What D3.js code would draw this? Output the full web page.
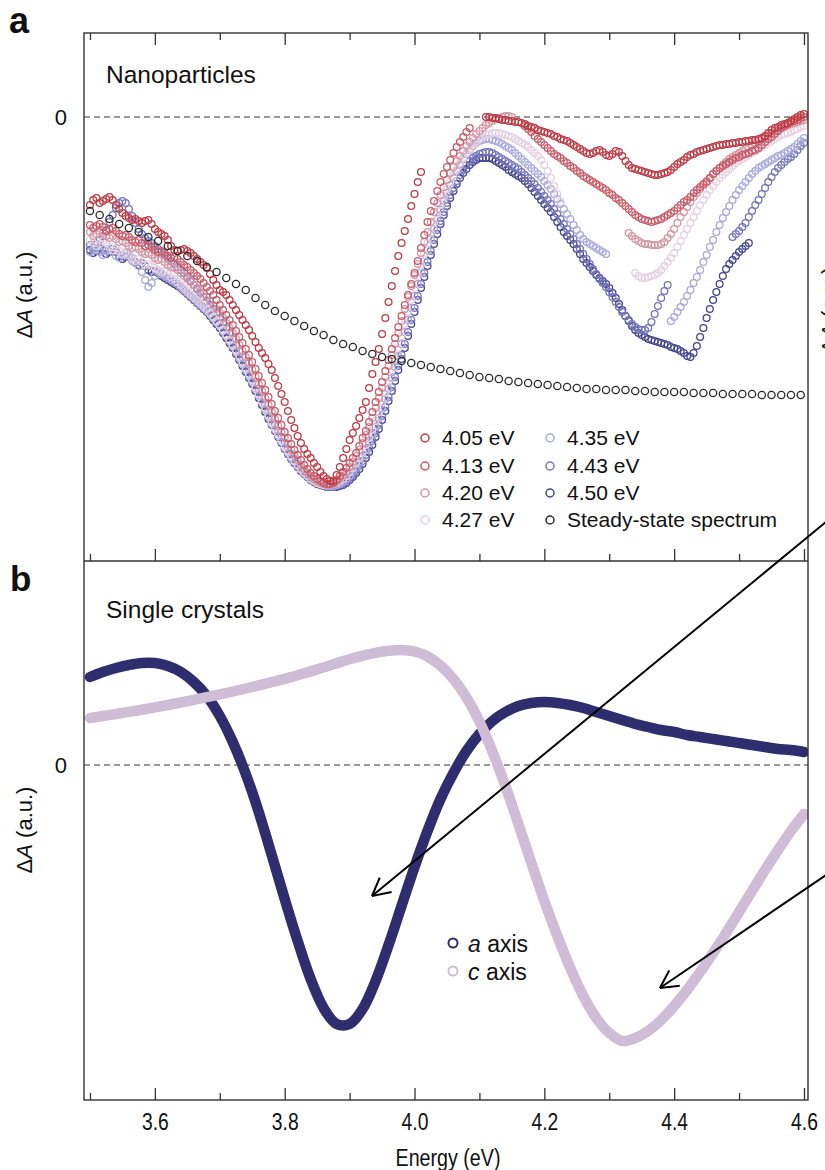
<!DOCTYPE html>
<html><head><meta charset="utf-8">
<script src="https://cdn.jsdelivr.net/npm/d3@7/dist/d3.min.js"></script>
<style>
body{margin:0;background:#fff}
svg{display:block}
text{font-family:"Liberation Sans",Arial,Helvetica,sans-serif;fill:#111}
</style>
</head><body>
<svg id="chart" width="825" height="1170"></svg>
<script>
// ---------------- DATA ----------------
const energyStep = 0.005;           // eV, sampling of transient spectra
const pumpLabels = ["4.05 eV","4.13 eV","4.20 eV","4.27 eV","4.35 eV","4.43 eV","4.50 eV"];
const pumpColors = ["#be3a44","#c85a66","#d596a3","#e4d0e2","#a9a9dc","#7474bc","#43438f"];

const ta405Starts = [3.50, 4.11];
const ta405a = [-8.8,-8.3,-8.1,-8.6,-8.4,-8.2,-8.0,-8.3,-8.8,-9.2,
-9.6,-9.9,-10.1,-10.3,-10.2,-10.4,-10.6,-10.4,-10.3,-10.7,
-11.2,-11.5,-11.7,-11.9,-12.3,-12.9,-13.3,-13.4,-13.3,-13.2,
-13.4,-13.6,-13.9,-14.2,-14.5,-14.8,-15.1,-15.7,-16.3,-16.8,
-17.3,-17.5,-17.8,-18.3,-18.8,-19.3,-19.8,-20.3,-20.8,-21.3,
-21.9,-22.5,-23.1,-23.6,-24.1,-24.7,-25.3,-26.1,-26.9,-27.7,
-28.5,-29.4,-30.3,-31.1,-31.9,-32.6,-33.2,-33.7,-34.1,-34.6,
-35.0,-35.5,-35.9,-36.2,-36.4,-36.4,-35.8,-35.0,-34.1,-33.2,
-32.3,-31.6,-30.9,-30.1,-29.3,-28.5,-27.1,-25.7,-24.5,-23.2,
-21.7,-20.1,-18.5,-16.9,-15.4,-13.9,-12.6,-11.4,-10.2,-8.9,
-7.7,-6.5,-5.5];
const ta405b = [0.0,0.0,-0.1,-0.1,-0.2,-0.3,-0.3,-0.4,-0.4,-0.5,
-0.5,-0.6,-0.7,-0.9,-1.0,-1.1,-1.3,-1.4,-1.5,-1.6,
-1.7,-1.9,-2.0,-2.2,-2.3,-2.4,-2.6,-2.8,-3.0,-3.2,
-3.4,-3.6,-3.7,-3.6,-3.4,-3.3,-3.5,-3.8,-3.9,-3.7,
-3.4,-3.5,-3.9,-4.4,-4.8,-5.1,-5.2,-5.3,-5.4,-5.5,
-5.6,-5.7,-5.8,-5.8,-5.7,-5.6,-5.5,-5.3,-5.0,-4.7,
-4.5,-4.3,-4.0,-3.8,-3.7,-3.5,-3.4,-3.3,-3.2,-3.1,
-3.0,-2.9,-2.8,-2.8,-2.7,-2.7,-2.6,-2.6,-2.5,-2.5,
-2.4,-2.4,-2.3,-2.3,-2.2,-2.1,-1.9,-1.6,-1.3,-1.1,
-1.0,-0.8,-0.7,-0.6,-0.4,-0.2,0.0,0.2,0.3];

const ta413Starts = [3.50, 4.17];
const ta413a = [-10.8,-11.1,-10.9,-10.7,-11.0,-11.4,-11.2,-11.1,-11.4,-11.7,
-11.9,-11.8,-12.0,-12.3,-12.5,-12.3,-12.6,-12.9,-12.8,-13.0,
-13.3,-13.5,-13.4,-13.6,-13.9,-14.1,-14.0,-14.2,-14.5,-14.8,
-15.0,-15.3,-15.6,-15.9,-16.2,-16.6,-17.0,-17.4,-17.8,-18.3,
-18.8,-19.3,-19.8,-20.3,-20.8,-21.4,-22.0,-22.6,-23.2,-23.8,
-24.5,-25.2,-25.9,-26.6,-27.3,-28.0,-28.7,-29.4,-30.1,-30.8,
-31.5,-32.1,-32.7,-33.3,-33.8,-34.3,-34.8,-35.2,-35.6,-35.9,
-36.2,-36.4,-36.6,-36.7,-36.7,-36.6,-36.3,-35.9,-35.5,-35.1,
-34.6,-34.1,-33.6,-32.9,-32.1,-31.4,-30.5,-29.5,-28.5,-27.5,
-26.5,-25.4,-24.3,-23.2,-22.1,-21.0,-19.9,-18.8,-17.8,-16.7,
-15.6,-14.4,-13.1,-11.8,-10.5,-9.4,-8.4,-7.4,-6.5,-5.7,
-5.0,-4.3,-3.6,-3.0,-2.5,-2.0,-1.5,-1.1];
const ta413b = [-0.9,-1.2,-1.5,-1.9,-2.2,-2.5,-2.8,-3.1,-3.4,-3.7,
-3.9,-4.1,-4.4,-4.6,-4.9,-5.1,-5.4,-5.6,-5.9,-6.1,
-6.3,-6.5,-6.7,-6.9,-7.1,-7.3,-7.6,-7.8,-8.1,-8.3,
-8.6,-8.9,-9.2,-9.5,-9.8,-10.0,-10.2,-10.3,-10.4,-10.5,
-10.4,-10.3,-10.2,-10.0,-9.8,-9.6,-9.4,-9.1,-8.8,-8.5,
-8.3,-8.0,-7.6,-7.3,-7.0,-6.7,-6.5,-6.1,-5.7,-5.4,
-5.1,-4.9,-4.7,-4.5,-4.3,-4.1,-4.0,-3.8,-3.7,-3.6,
-3.4,-3.3,-3.1,-2.8,-2.5,-2.2,-2.0,-1.7,-1.4,-1.1,
-0.9,-0.7,-0.5,-0.4,-0.3,-0.1,0.0];

const ta420Starts = [3.50, 4.33];
const ta420a = [-11.5,-11.9,-11.7,-11.4,-11.6,-11.9,-12.1,-11.9,-12.2,-12.5,
-12.4,-12.6,-12.9,-13.1,-13.0,-13.2,-13.5,-13.7,-13.6,-13.8,
-14.1,-14.3,-14.2,-14.5,-14.8,-15.0,-15.1,-15.3,-15.6,-15.9,
-16.2,-16.5,-16.8,-17.1,-17.4,-17.7,-18.0,-18.4,-18.8,-19.2,
-19.6,-20.1,-20.6,-21.1,-21.6,-22.2,-22.8,-23.4,-24.0,-24.6,
-25.3,-26.0,-26.7,-27.4,-28.1,-28.8,-29.5,-30.2,-30.9,-31.5,
-32.1,-32.7,-33.3,-33.8,-34.3,-34.8,-35.2,-35.6,-35.9,-36.2,
-36.4,-36.6,-36.7,-36.8,-36.8,-36.7,-36.5,-36.2,-35.9,-35.5,
-35.0,-34.5,-33.9,-33.3,-32.6,-31.8,-31.0,-30.1,-29.1,-28.1,
-27.1,-26.0,-24.9,-23.8,-22.7,-21.6,-20.4,-19.2,-18.0,-16.9,
-15.8,-14.7,-13.6,-12.5,-11.5,-10.5,-9.5,-8.6,-7.8,-7.0,
-6.3,-5.6,-5.0,-4.4,-3.9,-3.4,-2.9,-2.5,-2.1,-1.7,
-1.4,-1.1,-0.8,-0.6,-0.4,-0.2,-0.1,0.0,0.1,0.1,
0.0];
const ta420b = [-11.6,-11.9,-12.2,-12.4,-12.6,-12.7,-12.7,-12.8,-12.8,-12.8,
-12.7,-12.5,-12.1,-11.7,-11.2,-10.6,-10.0,-9.5,-9.0,-8.5,
-8.0,-7.6,-7.2,-6.8,-6.4,-6.1,-5.7,-5.4,-5.1,-4.8,
-4.5,-4.2,-4.0,-3.8,-3.6,-3.4,-3.2,-3.0,-2.8,-2.6,
-2.4,-2.2,-2.0,-1.8,-1.6,-1.4,-1.2,-1.0,-0.9,-0.8,
-0.7,-0.6,-0.5,-0.4,-0.3];

const ta427Starts = [3.50, 4.34];
const ta427a = [-12.3,-12.6,-12.9,-12.7,-12.4,-12.6,-13.0,-13.3,-13.1,-13.4,
-13.7,-13.5,-13.8,-14.1,-14.4,-14.2,-14.5,-14.8,-14.7,-14.9,
-15.1,-15.3,-15.5,-15.4,-15.7,-16.0,-16.2,-16.5,-16.8,-17.1,
-17.4,-17.7,-18.0,-18.3,-18.6,-18.9,-19.2,-19.6,-20.0,-20.4,
-20.8,-21.3,-21.8,-22.3,-22.8,-23.3,-23.9,-24.5,-25.1,-25.7,
-26.3,-27.0,-27.7,-28.4,-29.1,-29.8,-30.5,-31.1,-31.7,-32.3,
-32.9,-33.4,-33.9,-34.4,-34.8,-35.2,-35.6,-35.9,-36.2,-36.4,
-36.6,-36.7,-36.8,-36.8,-36.8,-36.7,-36.6,-36.4,-36.2,-35.9,
-35.5,-35.1,-34.6,-34.1,-33.5,-32.8,-32.1,-31.3,-30.4,-29.5,
-28.5,-27.5,-26.4,-25.3,-24.2,-23.1,-21.9,-20.7,-19.5,-18.3,
-17.1,-15.9,-14.8,-13.7,-12.6,-11.6,-10.6,-9.7,-8.8,-8.0,
-7.2,-6.5,-5.8,-5.2,-4.6,-4.1,-3.6,-3.2,-2.8,-2.5,
-2.2,-2.0,-1.8,-1.7,-1.6,-1.6,-1.6,-1.7,-1.8,-1.9,
-2.0,-2.2,-2.4,-2.6,-2.8,-3.0,-3.3,-3.6,-3.9,-4.3,
-4.8,-5.4,-6.1,-6.9,-7.7,-8.5];
const ta427b = [-15.6,-15.9,-16.1,-16.1,-16.0,-15.9,-15.8,-15.6,-15.3,-14.9,
-14.5,-14.1,-13.6,-13.0,-12.4,-11.8,-11.2,-10.6,-10.0,-9.4,
-8.8,-8.3,-7.8,-7.3,-6.9,-6.5,-6.1,-5.8,-5.5,-5.2,
-4.9,-4.6,-4.4,-4.2,-4.0,-3.8,-3.6,-3.4,-3.2,-3.0,
-2.8,-2.6,-2.4,-2.2,-2.0,-1.8,-1.7,-1.6,-1.5,-1.3,
-1.2,-1.0,-0.9];

const ta435Starts = [3.50, 4.395];
const ta435a = [-13.5,-13.3,-13.1,-13.5,-13.8,-13.4,-13.2,-13.5,-13.9,-14.1,
-13.8,-13.6,-14.0,-14.4,-14.6,-14.9,-15.5,-16.3,-17.0,-16.6,
-15.9,-15.5,-15.7,-15.9,-16.1,-16.3,-16.5,-16.7,-17.0,-17.3,
-17.6,-17.9,-18.2,-18.5,-18.8,-19.1,-19.4,-19.7,-20.1,-20.5,
-20.9,-21.4,-21.9,-22.4,-22.9,-23.5,-24.1,-24.7,-25.3,-25.9,
-26.5,-27.2,-27.9,-28.6,-29.3,-30.0,-30.7,-31.3,-31.9,-32.5,
-33.1,-33.6,-34.1,-34.5,-34.9,-35.3,-35.6,-35.9,-36.2,-36.4,
-36.6,-36.7,-36.8,-36.9,-36.9,-36.9,-36.8,-36.7,-36.5,-36.2,
-35.9,-35.5,-35.1,-34.6,-34.0,-33.3,-32.6,-31.8,-31.0,-30.1,
-29.2,-28.2,-27.2,-26.1,-25.0,-23.9,-22.7,-21.5,-20.3,-19.1,
-17.9,-16.7,-15.5,-14.4,-13.3,-12.2,-11.2,-10.2,-9.3,-8.4,
-7.6,-6.8,-6.1,-5.4,-4.8,-4.2,-3.7,-3.3,-2.9,-2.6,
-2.4,-2.3,-2.2,-2.2,-2.3,-2.4,-2.5,-2.7,-2.9,-3.1,
-3.3,-3.6,-3.9,-4.2,-4.5,-4.8,-5.1,-5.4,-5.7,-6.0,
-6.4,-6.8,-7.2,-7.7,-8.2,-8.7,-9.2,-9.7,-10.2,-10.8,
-11.3,-11.8,-12.2,-12.5,-12.7,-12.9,-13.1,-13.3,-13.5,-13.7];
const ta435b = [-20.4,-20.0,-19.5,-19.0,-18.5,-17.9,-17.3,-16.6,-16.0,-15.3,
-14.5,-13.8,-13.0,-12.3,-11.5,-10.8,-10.1,-9.5,-8.9,-8.3,
-7.8,-7.3,-6.9,-6.5,-6.1,-5.7,-5.4,-5.1,-4.9,-4.7,
-4.5,-4.3,-4.1,-3.9,-3.8,-3.6,-3.4,-3.2,-3.0,-2.7,
-2.4,-2.1];

const ta443Starts = [3.50, 4.49];
const ta443a = [-12.8,-13.1,-12.7,-12.3,-11.9,-11.3,-10.5,-9.8,-9.1,-8.6,
-8.4,-8.6,-9.2,-9.9,-10.6,-11.2,-11.7,-12.1,-12.4,-12.6,
-12.9,-13.2,-13.5,-13.8,-14.1,-14.4,-14.7,-15.0,-15.3,-15.6,
-16.0,-16.4,-16.8,-17.2,-17.6,-18.0,-18.4,-18.8,-19.2,-19.6,
-20.1,-20.6,-21.1,-21.6,-22.2,-22.8,-23.4,-24.0,-24.6,-25.2,
-25.9,-26.6,-27.3,-28.0,-28.7,-29.4,-30.1,-30.8,-31.4,-32.0,
-32.6,-33.2,-33.7,-34.2,-34.7,-35.1,-35.5,-35.8,-36.1,-36.4,
-36.6,-36.8,-36.9,-37.0,-37.0,-37.0,-36.9,-36.8,-36.6,-36.4,
-36.1,-35.8,-35.4,-34.9,-34.4,-33.8,-33.1,-32.4,-31.6,-30.8,
-29.9,-29.0,-28.0,-27.0,-26.0,-24.9,-23.8,-22.7,-21.5,-20.3,
-19.1,-17.9,-16.7,-15.6,-14.5,-13.4,-12.3,-11.3,-10.4,-9.5,
-8.6,-7.8,-7.1,-6.4,-5.8,-5.3,-4.8,-4.4,-4.1,-3.9,
-3.7,-3.6,-3.5,-3.5,-3.6,-3.8,-4.0,-4.2,-4.4,-4.6,
-4.8,-5.0,-5.2,-5.5,-5.8,-6.1,-6.4,-6.7,-7.1,-7.5,
-7.9,-8.3,-8.7,-9.2,-9.7,-10.2,-10.7,-11.2,-11.7,-12.2,
-12.7,-13.2,-13.7,-14.2,-14.7,-15.2,-15.7,-16.2,-16.6,-17.0,
-17.5,-18.0,-18.5,-19.0,-19.5,-19.9,-20.3,-20.7,-21.0,-21.2,
-21.3,-21.3,-21.1,-20.5,-19.7,-18.9,-18.1,-17.4,-16.8];
const ta443b = [-12.0,-11.7,-11.4,-11.0,-10.6,-10.0,-9.4,-8.8,-8.3,-7.7,
-7.1,-6.5,-6.0,-5.5,-5.1,-4.8,-4.5,-4.2,-4.0,-3.7,
-3.3,-2.9,-2.6];

const ta450Starts = [3.50];
const ta450a = [-13.3,-13.6,-13.4,-13.1,-13.3,-13.7,-13.5,-13.2,-13.5,-13.9,
-14.2,-14.0,-13.8,-14.1,-14.5,-14.8,-14.6,-14.9,-15.3,-15.5,
-15.4,-15.6,-15.9,-16.1,-16.3,-16.5,-16.7,-16.9,-17.1,-17.4,
-17.7,-18.0,-18.3,-18.6,-18.9,-19.2,-19.5,-19.9,-20.3,-20.7,
-21.1,-21.6,-22.1,-22.6,-23.1,-23.7,-24.3,-24.9,-25.5,-26.1,
-26.7,-27.4,-28.1,-28.8,-29.5,-30.2,-30.8,-31.4,-32.0,-32.6,
-33.2,-33.7,-34.2,-34.6,-35.0,-35.4,-35.7,-36.0,-36.3,-36.5,
-36.7,-36.8,-36.9,-37.0,-37.0,-37.0,-37.0,-36.9,-36.8,-36.6,
-36.3,-36.0,-35.6,-35.2,-34.7,-34.1,-33.5,-32.8,-32.0,-31.2,
-30.3,-29.4,-28.4,-27.4,-26.4,-25.3,-24.2,-23.1,-21.9,-20.7,
-19.5,-18.3,-17.1,-16.0,-14.9,-13.8,-12.7,-11.7,-10.7,-9.8,
-8.9,-8.1,-7.4,-6.7,-6.1,-5.6,-5.2,-4.8,-4.5,-4.3,
-4.1,-4.1,-4.1,-4.1,-4.2,-4.4,-4.6,-4.8,-5.0,-5.3,
-5.5,-5.7,-5.9,-6.1,-6.4,-6.7,-7.1,-7.5,-7.9,-8.3,
-8.7,-9.1,-9.5,-10.0,-10.5,-11.0,-11.5,-11.9,-12.3,-12.7,
-13.2,-13.7,-14.2,-14.6,-15.0,-15.4,-15.8,-16.1,-16.4,-16.7,
-17.1,-17.6,-18.1,-18.7,-19.3,-19.9,-20.4,-20.9,-21.3,-21.6,
-21.8,-22.0,-22.2,-22.3,-22.4,-22.5,-22.6,-22.7,-22.8,-23.0,
-23.1,-23.2,-23.4,-23.6,-23.9,-24.0,-23.6,-22.9,-22.0,-21.1,
-20.1,-19.2,-18.3,-17.5,-16.7,-15.9,-15.2,-14.7,-14.3,-13.9,
-13.5,-13.2,-12.9,-12.6];

// steady-state absorption (plotted inverted), sampled every 0.015 eV from 3.50 eV
const steadyStart = 3.50, steadyStep = 0.015;
const steadyVals = [-9.4,-9.8,-10.2,-10.7,-11.1,-11.5,-12.0,-12.4,-12.9,-13.4,
-13.9,-14.4,-15.0,-15.5,-16.1,-16.7,-17.3,-18.1,-18.8,-19.4,
-19.9,-20.4,-20.9,-21.4,-21.8,-22.3,-22.7,-23.0,-23.4,-23.7,
-24.0,-24.2,-24.4,-24.6,-24.8,-25.0,-25.2,-25.4,-25.6,-25.8,
-26.0,-26.1,-26.2,-26.4,-26.5,-26.6,-26.7,-26.8,-26.9,-27.0,
-27.1,-27.2,-27.2,-27.3,-27.3,-27.3,-27.4,-27.4,-27.5,-27.5,
-27.5,-27.5,-27.6,-27.6,-27.6,-27.7,-27.7,-27.7,-27.7,-27.8,
-27.8,-27.8,-27.8,-27.8];

// single crystals, sampled every 0.02 eV from 3.50 eV
const crystalStart = 3.50, crystalStep = 0.02;
const aAxisVals = [8.8,9.3,9.7,10.0,10.2,10.2,9.9,9.3,8.3,6.9,
4.9,2.3,-0.9,-4.7,-9.0,-13.4,-17.6,-21.4,-24.3,-25.9,
-25.9,-24.4,-21.6,-18.0,-14.1,-10.2,-6.6,-3.4,-0.8,1.4,
3.1,4.4,5.3,5.9,6.2,6.3,6.2,6.0,5.7,5.3,
4.9,4.5,4.1,3.8,3.5,3.3,3.0,2.8,2.6,2.4,
2.2,2.0,1.8,1.6,1.5,1.3];
const cAxisVals = [4.70,4.90,5.10,5.31,5.53,5.76,6.00,6.25,6.51,6.78,
7.06,7.35,7.65,7.96,8.28,8.62,8.98,9.36,9.76,10.17,
10.57,10.93,11.22,11.42,11.50,11.35,10.85,9.95,8.60,6.75,
4.35,1.35,-2.10,-5.90,-9.80,-13.60,-17.10,-20.30,-23.10,-25.30,
-26.80,-27.60,-27.30,-26.60,-25.50,-24.10,-22.50,-20.70,-18.80,-16.80,
-14.70,-12.60,-10.50,-8.50,-6.60,-4.90];
const crystalLabels = ["a", "c"];
const crystalColors = ["#2f2d6e", "#cfbcd6"];

// axis
const majorTicks = [3.6, 3.8, 4.0, 4.2, 4.4, 4.6];
const minorTicks = [3.5, 3.7, 3.9, 4.1, 4.3, 4.5];

// annotation arrows in panel-b data coordinates [E0, v0, E1, v1] (tail -> head)
const arrowA = [4.643, 24.8, 3.9345, -13.1];
const arrowC = [4.643, -10.6, 4.378, -22.3];

// ---------------- CHART ----------------
const svg = d3.select("#chart");
const L = 84, R = 808, aTop = 33, mid = 561, bBot = 1100;
const narrow = '"Liberation Sans Narrow","Liberation Sans",Arial,sans-serif';

const x = d3.scaleLinear().domain([3.4908, 4.6062]).range([L, R]);
const yA = d3.scaleLinear().domain([8.4, -44.4]).range([aTop, mid]);
const yB = d3.scaleLinear().domain([20.4, -33.5]).range([mid, bBot]);

const taSeries = [
  {segs: [ta405a, ta405b], starts: ta405Starts},
  {segs: [ta413a, ta413b], starts: ta413Starts},
  {segs: [ta420a, ta420b], starts: ta420Starts},
  {segs: [ta427a, ta427b], starts: ta427Starts},
  {segs: [ta435a, ta435b], starts: ta435Starts},
  {segs: [ta443a, ta443b], starts: ta443Starts},
  {segs: [ta450a], starts: ta450Starts}
].map((s, i) => ({
  label: pumpLabels[i], color: pumpColors[i],
  pts: s.segs.flatMap((vals, j) => vals.map((v, k) => ({e: s.starts[j] + k * energyStep, v})))
}));

const defs = svg.append("defs");
defs.append("clipPath").attr("id", "clipA").append("rect")
  .attr("x", L).attr("y", aTop).attr("width", R - L).attr("height", mid - aTop);
defs.append("clipPath").attr("id", "clipB").append("rect")
  .attr("x", L).attr("y", mid).attr("width", R - L).attr("height", bBot - mid);

// zero lines
[yA, yB].forEach(sc => {
  svg.append("line").attr("x1", L).attr("x2", R).attr("y1", sc(0)).attr("y2", sc(0))
    .attr("stroke", "#333").attr("stroke-width", 1.2).attr("stroke-dasharray", "6,4");
});

// panel a scatter
const gA = svg.append("g").attr("clip-path", "url(#clipA)");
taSeries.slice().reverse().forEach(s => {
  gA.append("g").selectAll("circle").data(s.pts).join("circle")
    .attr("cx", d => x(d.e)).attr("cy", d => yA(d.v)).attr("r", 3.4)
    .attr("fill", "none").attr("stroke", s.color).attr("stroke-width", 1.3);
});
const steadyPts = steadyVals.map((v, i) => ({e: steadyStart + i * steadyStep, v}));
gA.append("g").selectAll("circle").data(steadyPts).join("circle")
  .attr("cx", d => x(d.e)).attr("cy", d => yA(d.v)).attr("r", 3.6)
  .attr("fill", "none").attr("stroke", "#2a2a2a").attr("stroke-width", 1.3);

// panel b curves
const gB = svg.append("g").attr("clip-path", "url(#clipB)");
const lineB = d3.line().x(d => x(d.e)).y(d => yB(d.v)).curve(d3.curveCatmullRom.alpha(0.5));
[aAxisVals, cAxisVals].forEach((vals, i) => {
  const pts = vals.map((v, k) => ({e: crystalStart + k * crystalStep, v}));
  gB.append("path").datum(pts).attr("d", lineB).attr("fill", "none")
    .attr("stroke", crystalColors[i]).attr("stroke-width", 10.5).attr("stroke-linecap", "round");
});

// frames
svg.append("rect").attr("x", L).attr("y", aTop).attr("width", R - L).attr("height", bBot - aTop)
  .attr("fill", "none").attr("stroke", "#333").attr("stroke-width", 1.4);
svg.append("line").attr("x1", L).attr("x2", R).attr("y1", mid).attr("y2", mid)
  .attr("stroke", "#333").attr("stroke-width", 1.4);

// ticks via d3 axes
function tickAxis(gen, y, vals, size) {
  const g = svg.append("g").attr("transform", `translate(0,${y})`)
    .call(gen(x).tickValues(vals).tickSize(size).tickFormat(""));
  g.select(".domain").remove();
  g.selectAll(".tick line").attr("stroke", "#333").attr("stroke-width", 1.3);
}
tickAxis(d3.axisBottom, aTop, majorTicks, 12);
tickAxis(d3.axisBottom, aTop, minorTicks, 7);
tickAxis(d3.axisTop, mid, majorTicks, 12);
tickAxis(d3.axisTop, mid, minorTicks, 7);
tickAxis(d3.axisTop, bBot, majorTicks, 12);
tickAxis(d3.axisTop, bBot, minorTicks, 7);

const lab = svg.append("g").attr("transform", `translate(0,${bBot})`)
  .call(d3.axisBottom(x).tickValues(majorTicks).tickSize(0).tickPadding(14).tickFormat(d3.format(".1f")));
lab.select(".domain").remove();
lab.selectAll("text").attr("font-size", 23).attr("fill", "#111")
  .attr("transform", "scale(0.84,1)").style("font-family", narrow);

svg.append("text").attr("transform", `translate(${(L + R) / 2 + 2},1166) scale(0.82,1)`)
  .attr("text-anchor", "middle").attr("font-size", 24).style("font-family", narrow)
  .text("Energy (eV)");

// zero labels
svg.append("text").attr("x", 67).attr("y", yA(0) + 8).attr("text-anchor", "end").attr("font-size", 22).text("0");
svg.append("text").attr("x", 67).attr("y", yB(0) + 8).attr("text-anchor", "end").attr("font-size", 22).text("0");

// y labels
function yLabel(cx, cy) {
  const t = svg.append("text").attr("transform", `translate(${cx},${cy}) rotate(-90)`)
    .attr("text-anchor", "middle").attr("font-size", 22);
  t.append("tspan").text("Δ");
  t.append("tspan").attr("font-style", "italic").text("A");
  t.append("tspan").text(" (a.u.)");
}
yLabel(32, 295);
yLabel(32, 830);
yLabel(837, 310);   // label of the neighbouring panel, cut by the figure edge as in the source

// panel letters and titles
svg.append("text").attr("x", 9).attr("y", 33).attr("font-size", 36).attr("font-weight", "bold").text("a");
svg.append("text").attr("x", 10).attr("y", 591).attr("font-size", 35).attr("font-weight", "bold").text("b");
svg.append("text").attr("x", 106).attr("y", 83).attr("font-size", 24.5).text("Nanoparticles");
svg.append("text").attr("x", 106).attr("y", 618).attr("font-size", 24.5).text("Single crystals");

// legend panel a
const legItems = pumpLabels.map((l, i) => ({label: l, color: pumpColors[i]}))
  .concat([{label: "Steady-state spectrum", color: "#2a2a2a"}]);
const legRows = [445, 473, 500, 527];
legItems.forEach((d, i) => {
  const col = i < 4 ? 0 : 1, row = i % 4;
  const cx = col === 0 ? 425 : 550;
  svg.append("circle").attr("cx", cx).attr("cy", legRows[row] - 7).attr("r", 4)
    .attr("fill", "none").attr("stroke", d.color).attr("stroke-width", 1.5);
  svg.append("text").attr("x", cx + 17).attr("y", legRows[row]).attr("font-size", 21).text(d.label);
});

// legend panel b
[944, 972].forEach((yy, i) => {
  svg.append("circle").attr("cx", 453).attr("cy", yy - 1).attr("r", 4.5)
    .attr("fill", "none").attr("stroke", crystalColors[i]).attr("stroke-width", 2);
  const t = svg.append("text").attr("x", 468).attr("y", yy + 8).attr("font-size", 23);
  t.append("tspan").attr("font-style", "italic").text(crystalLabels[i]);
  t.append("tspan").text(" axis");
});

// arrows
function arrow(a) {
  const x0 = x(a[0]), y0 = yB(a[1]), x1 = x(a[2]), y1 = yB(a[3]);
  svg.append("line").attr("x1", x0).attr("y1", y0).attr("x2", x1).attr("y2", y1)
    .attr("stroke", "#000").attr("stroke-width", 2);
  const ang = Math.atan2(y0 - y1, x0 - x1), len = 20, spread = Math.PI / 6.5;
  [ang - spread, ang + spread].forEach(t => {
    svg.append("line").attr("x1", x1).attr("y1", y1)
      .attr("x2", x1 + len * Math.cos(t)).attr("y2", y1 + len * Math.sin(t))
      .attr("stroke", "#000").attr("stroke-width", 2);
  });
}
arrow(arrowA);
arrow(arrowC);
</script>
</body></html>
